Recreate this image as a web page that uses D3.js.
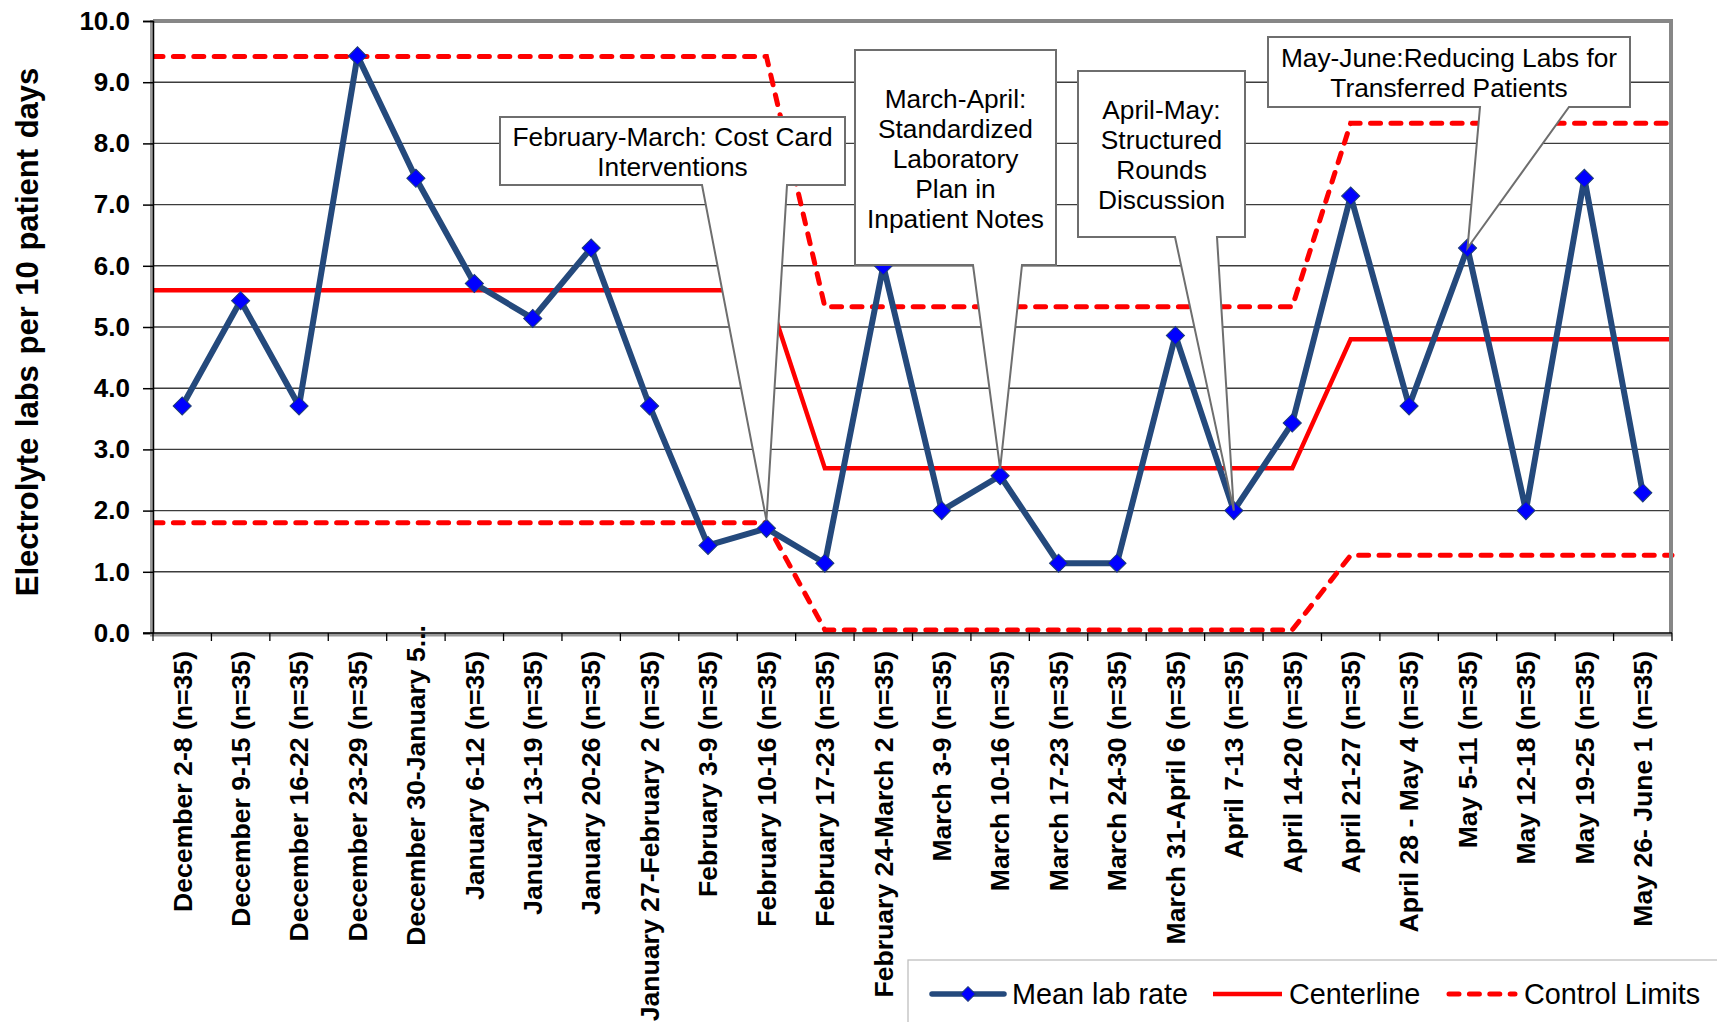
<!DOCTYPE html>
<html><head><meta charset="utf-8">
<script src="https://cdn.jsdelivr.net/npm/d3@7"></script>
<style>
html,body{margin:0;padding:0;background:#fff;}
svg{display:block;font-family:"Liberation Sans",Arial,sans-serif;}
</style></head><body>
<svg id="chart" width="1717" height="1022"></svg>
<script>
// ---------------- DATA ----------------
const categories = [
  "December 2-8 (n=35)", "December 9-15 (n=35)", "December 16-22 (n=35)", "December 23-29 (n=35)",
  "December 30-January 5...", "January 6-12 (n=35)", "January 13-19 (n=35)", "January 20-26 (n=35)",
  "January 27-February 2 (n=35)", "February 3-9 (n=35)", "February 10-16 (n=35)", "February 17-23 (n=35)",
  "February 24-March 2 (n=35)", "March 3-9 (n=35)", "March 10-16 (n=35)", "March 17-23 (n=35)",
  "March 24-30 (n=35)", "March 31-April 6 (n=35)", "April 7-13 (n=35)", "April 14-20 (n=35)",
  "April 21-27 (n=35)", "April 28 - May 4 (n=35)", "May 5-11 (n=35)", "May 12-18 (n=35)",
  "May 19-25 (n=35)", "May 26- June 1 (n=35)"
];
const meanLabRate = [3.71, 5.43, 3.71, 9.43, 7.43, 5.71, 5.14, 6.29, 3.71, 1.43, 1.71, 1.14, 6.00,
                     2.00, 2.57, 1.14, 1.14, 4.86, 2.00, 3.43, 7.14, 3.71, 6.29, 2.00, 7.43, 2.29];
const centerline = [5.6, 5.6, 5.6, 5.6, 5.6, 5.6, 5.6, 5.6, 5.6, 5.6, 5.6,
                    2.69, 2.69, 2.69, 2.69, 2.69, 2.69, 2.69, 2.69, 2.69,
                    4.8, 4.8, 4.8, 4.8, 4.8, 4.8];
const upperControlLimit = [9.42, 9.42, 9.42, 9.42, 9.42, 9.42, 9.42, 9.42, 9.42, 9.42, 9.42,
                           5.33, 5.33, 5.33, 5.33, 5.33, 5.33, 5.33, 5.33, 5.33,
                           8.33, 8.33, 8.33, 8.33, 8.33, 8.33];
const lowerControlLimit = [1.8, 1.8, 1.8, 1.8, 1.8, 1.8, 1.8, 1.8, 1.8, 1.8, 1.8,
                           0.05, 0.05, 0.05, 0.05, 0.05, 0.05, 0.05, 0.05, 0.05,
                           1.27, 1.27, 1.27, 1.27, 1.27, 1.27];
const yTicks = [0, 1, 2, 3, 4, 5, 6, 7, 8, 9, 10];
const yAxisTitle = "Electrolyte labs per 10 patient days";
const legendLabels = ["Mean lab rate", "Centerline", "Control Limits"];
const annotationTexts = [
  ["February-March: Cost Card", "Interventions"],
  ["March-April:", "Standardized", "Laboratory", "Plan in", "Inpatient Notes"],
  ["April-May:", "Structured", "Rounds", "Discussion"],
  ["May-June:Reducing Labs for", "Transferred Patients"]
];
const annotationTargets = ["February 10-16 (n=35)", "March 10-16 (n=35)", "April 7-13 (n=35)", "May 5-11 (n=35)"];

// ---------------- LAYOUT / STYLE ----------------
const plot = {left: 153, right: 1672, top: 21, bottom: 633};
const calloutBoxes = [
  {l: 500, t: 117, r: 845, b: 185, bl: 702, br: 787, tipDy: -8},
  {l: 855, t: 50, r: 1056, b: 265, bl: 973, br: 1022, tipDy: -7},
  {l: 1078, t: 71, r: 1245, b: 237, bl: 1175, br: 1217, tipDy: 0},
  {l: 1268, t: 37, r: 1630, b: 107, bl: 1480, br: 1569, tipDy: 0}
];
const navy = "#24497C", red = "#FF0000";
const dash = "10,10.4";

const svg = d3.select("#chart");

const x = d3.scaleBand().domain(categories).range([plot.left, plot.right]).padding(0);
const cx = c => x(c) + x.bandwidth() / 2;
const y = d3.scaleLinear().domain([0, 10]).range([plot.bottom, plot.top]);

// gridlines
svg.append("g").selectAll("line").data(yTicks.filter(v => v > 0 && v < 10)).join("line")
  .attr("x1", plot.left).attr("x2", plot.right)
  .attr("y1", d => y(d)).attr("y2", d => y(d))
  .attr("stroke", "#3c3c3c").attr("stroke-width", 1.4);

// step series extended to plot edges
function extended(vals) {
  const pts = categories.map((c, i) => [cx(c), vals[i]]);
  return [[plot.left, vals[0]], ...pts, [plot.right, vals[vals.length - 1]]];
}
const stepLine = d3.line().x(d => d[0]).y(d => y(d[1]));

[upperControlLimit, lowerControlLimit].forEach(vals => {
  svg.append("path").datum(extended(vals)).attr("d", stepLine)
    .attr("fill", "none").attr("stroke", red).attr("stroke-width", 5)
    .attr("stroke-dasharray", dash).attr("stroke-linecap", "round");
});
svg.append("path").datum(extended(centerline)).attr("d", stepLine)
  .attr("fill", "none").attr("stroke", red).attr("stroke-width", 4.5);

// mean line
const meanLine = d3.line().x((d, i) => cx(categories[i])).y(d => y(d));
svg.append("path").datum(meanLabRate).attr("d", meanLine)
  .attr("fill", "none").attr("stroke", navy).attr("stroke-width", 6)
  .attr("stroke-linejoin", "round");
const diamond = d3.symbol(d3.symbolSquare, 165);
svg.append("g").selectAll("path").data(meanLabRate).join("path")
  .attr("d", diamond)
  .attr("transform", (d, i) => `translate(${cx(categories[i])},${y(d)}) rotate(45)`)
  .attr("fill", "#0000FF").attr("stroke", "#1F3F75").attr("stroke-width", 1);

// callouts
const cg = svg.append("g");
calloutBoxes.forEach((b, k) => {
  const tc = annotationTargets[k];
  const i = categories.indexOf(tc);
  const tx = cx(tc), ty = y(meanLabRate[i]) + b.tipDy;
  const p = `M${b.l},${b.t}H${b.r}V${b.b}H${b.br}L${tx},${ty}L${b.bl},${b.b}H${b.l}Z`;
  cg.append("path").attr("d", p).attr("fill", "#fff").attr("stroke", "#6e6e6e").attr("stroke-width", 2);
  const lines = annotationTexts[k];
  const midY = (b.t + b.b) / 2 + 1, lh = 30;
  lines.forEach((s, j) => {
    cg.append("text").attr("x", (b.l + b.r) / 2)
      .attr("y", midY - (lines.length - 1) * lh / 2 + j * lh)
      .attr("dy", "0.35em").attr("text-anchor", "middle")
      .attr("font-size", 26.3).attr("fill", "#000").text(s);
  });
});

// plot borders (top & right gray)
svg.append("path")
  .attr("d", `M${plot.left},${plot.top}H${plot.right - 1}V${plot.bottom}`)
  .attr("fill", "none").attr("stroke", "#878787").attr("stroke-width", 4);

// left axis
svg.append("line").attr("x1", plot.left - 1.5).attr("x2", plot.left - 1.5)
  .attr("y1", plot.top - 1).attr("y2", plot.bottom + 2).attr("stroke", "#9a9a9a").attr("stroke-width", 3);
const yAxisG = svg.append("g").attr("transform", `translate(${plot.left},0)`)
  .call(d3.axisLeft(y).tickValues(yTicks).tickFormat(d3.format(".1f")).tickSize(10).tickPadding(13));
yAxisG.select(".domain").attr("stroke", "#000").attr("stroke-width", 1.5);
yAxisG.selectAll(".tick line").attr("stroke", "#000").attr("stroke-width", 1.5);
yAxisG.selectAll(".tick text").attr("font-size", 26).attr("font-weight", "bold")
  .attr("fill", "#000").attr("font-family", "'Liberation Sans', Arial, sans-serif");

// bottom axis
svg.append("line").attr("x1", plot.left - 3).attr("x2", plot.right)
  .attr("y1", plot.bottom + 2).attr("y2", plot.bottom + 2).attr("stroke", "#9a9a9a").attr("stroke-width", 3);
svg.append("line").attr("x1", plot.left - 10).attr("x2", plot.right)
  .attr("y1", plot.bottom).attr("y2", plot.bottom).attr("stroke", "#000").attr("stroke-width", 1.6);
const bounds = d3.range(categories.length + 1).map(i => plot.left + i * x.bandwidth());
svg.append("g").selectAll("line").data(bounds).join("line")
  .attr("x1", d => d).attr("x2", d => d).attr("y1", plot.bottom).attr("y2", plot.bottom + 8)
  .attr("stroke", "#000").attr("stroke-width", 1.3);
const xAxisG = svg.append("g").attr("transform", `translate(0,${plot.bottom})`)
  .call(d3.axisBottom(x).tickSize(0).tickPadding(0));
xAxisG.select(".domain").remove();
xAxisG.selectAll(".tick text")
  .attr("transform", "rotate(-90)").attr("text-anchor", "end")
  .attr("x", d => d.endsWith("...") ? 8 : -18).attr("y", 0).attr("dy", "0.35em")
  .attr("font-size", 26.6).attr("font-weight", "bold").attr("fill", "#000")
  .attr("font-family", "'Liberation Sans', Arial, sans-serif");

// y-axis title
svg.append("text").attr("transform", "translate(27,332) rotate(-90)")
  .attr("text-anchor", "middle").attr("dy", "0.35em")
  .attr("font-size", 31).attr("font-weight", "bold").attr("word-spacing", 2)
  .attr("fill", "#000").text(yAxisTitle);

// legend
const lg = svg.append("g");
lg.append("rect").attr("x", 908).attr("y", 960).attr("width", 830).attr("height", 90)
  .attr("fill", "#fff").attr("stroke", "#bfbfbf").attr("stroke-width", 1.3);
const ly = 994;
lg.append("line").attr("x1", 932).attr("x2", 1004).attr("y1", ly).attr("y2", ly)
  .attr("stroke", navy).attr("stroke-width", 5.5).attr("stroke-linecap", "round");
lg.append("path").attr("d", d3.symbol(d3.symbolSquare, 110))
  .attr("transform", `translate(968,${ly}) rotate(45)`)
  .attr("fill", "#0000FF").attr("stroke", "#1F3F75").attr("stroke-width", 1);
lg.append("line").attr("x1", 1213).attr("x2", 1282).attr("y1", ly).attr("y2", ly)
  .attr("stroke", red).attr("stroke-width", 4.5);
lg.append("line").attr("x1", 1449).attr("x2", 1515).attr("y1", ly).attr("y2", ly)
  .attr("stroke", red).attr("stroke-width", 5).attr("stroke-dasharray", dash).attr("stroke-linecap", "round");
[1012, 1289, 1524].forEach((lx, k) => {
  lg.append("text").attr("x", lx).attr("y", ly).attr("dy", "0.35em")
    .attr("font-size", 28.8).attr("fill", "#000").text(legendLabels[k]);
});
</script>
</body></html>
